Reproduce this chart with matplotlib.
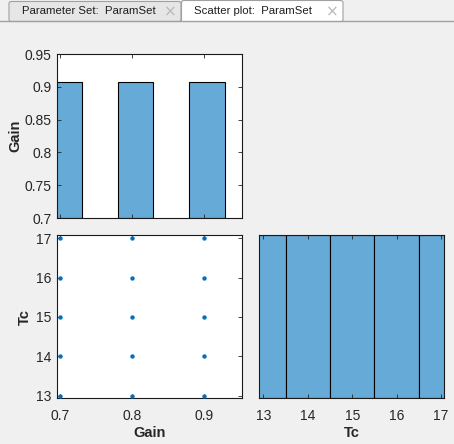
import matplotlib.pyplot as plt
from matplotlib.patches import FancyBboxPatch, Rectangle
from matplotlib.lines import Line2D

# ---------------- dados ----------------
gain_levels = [0.7, 0.8, 0.9]
tc_levels = [13, 14, 15, 16, 17]

# pontos do scatter (Gain x Tc)
scatter_gain = [0.7, 0.7, 0.7, 0.7, 0.7,
                0.8, 0.8, 0.8, 0.8, 0.8,
                0.9, 0.9, 0.9, 0.9, 0.9]
scatter_tc = [13, 14, 15, 16, 17,
              13, 14, 15, 16, 17,
              13, 14, 15, 16, 17]

# histograma de Gain (diagonal superior)
gain_bin_left = [0.68, 0.78, 0.88]
gain_bin_width = 0.05
gain_bar_top = [0.907, 0.907, 0.907]

# histograma de Tc (diagonal inferior)
tc_bin_left = [12.5, 13.5, 14.5, 15.5, 16.5]
tc_counts = [3, 3, 3, 3, 3]

tab_labels = ['Parameter Set:  ParamSet', 'Scatter plot:  ParamSet']

W, H = 454, 444
bar_color = '#66aad7'
dot_color = '#0072bd'
txt_color = '#262626'

plt.rcParams['font.family'] = ['Liberation Sans', 'DejaVu Sans']


def box(x0, y0, x1, y1):
    # pixel (topo-esquerda) -> fração da figura
    return [x0 / W, 1 - y1 / H, (x1 - x0) / W, (y1 - y0) / H]


def estilo(ax):
    ax.tick_params(direction='in', length=3, width=0.6, colors=txt_color,
                   labelsize=10, top=True, right=True, pad=4)
    for s in ax.spines.values():
        s.set_color('#1a1a1a')
        s.set_linewidth(0.8)


fig = plt.figure(figsize=(W / 100, H / 100), dpi=100, facecolor='#f0f0f0')

# ---------------- abas ----------------
fig.add_artist(Line2D([0, 1], [1 - 21.5 / H] * 2, color='#a0a0a0', lw=1,
                      transform=fig.transFigure))
abas = [(9, 181, 1.5, '#e6e6e6'), (181.5, 343, 0.5, '#ffffff')]
for (x0, x1, y0, cor), lab in zip(abas, tab_labels):
    p = FancyBboxPatch((x0 / W, 1 - 21.5 / H), (x1 - x0) / W, (21.5 - y0) / H,
                       boxstyle='round,pad=0,rounding_size=0.005',
                       transform=fig.transFigure, facecolor=cor,
                       edgecolor='#a0a0a0', lw=0.8)
    fig.add_artist(p)
    if cor == '#ffffff':
        # aba ativa: sem borda inferior
        fig.add_artist(Rectangle(((x0 + 0.6) / W, 1 - 22.5 / H),
                                 (x1 - x0 - 1.2) / W, 2 / H, facecolor=cor,
                                 edgecolor='none', transform=fig.transFigure))
    fig.text((x0 + 13) / W, 1 - 11.5 / H, lab, fontsize=8.2, color='#1e1e1e',
             va='center', ha='left')
    fig.text((x1 - 10.5) / W, 1 - 11.5 / H, '\u00d7', fontsize=11,
             color='#b8b8b8', va='center', ha='center',
             family=['DejaVu Sans'])

# ---------------- Gain: histograma ----------------
ax1 = fig.add_axes(box(57.3, 54, 242.3, 218))
ax1.bar(gain_bin_left, [t - 0.7 for t in gain_bar_top], width=gain_bin_width,
        bottom=0.7, align='edge', color=bar_color, edgecolor='black', lw=0.8)
ax1.set_xlim(0.696, 0.954)
ax1.set_ylim(0.7, 0.95)
ax1.set_yticks([0.7, 0.75, 0.8, 0.85, 0.9, 0.95])
ax1.set_yticklabels(['0.7', '0.75', '0.8', '0.85', '0.9', '0.95'])
ax1.set_xticks([0.7, 0.8, 0.9])
ax1.set_xticklabels([])
estilo(ax1)
ax1.set_ylabel('Gain', fontsize=10.5, fontweight='bold', color=txt_color)
ax1.yaxis.set_label_coords(-0.229, 0.5)
ax1.yaxis.label.set_va('center')

# ---------------- scatter Gain x Tc ----------------
ax2 = fig.add_axes(box(57.3, 235.3, 242.3, 398.3))
ax2.scatter(scatter_gain, scatter_tc, s=10, color=dot_color, lw=0, zorder=3,
            clip_on=False)
ax2.set_xlim(0.696, 0.954)
ax2.set_ylim(12.94, 17.07)
ax2.set_xticks(gain_levels)
ax2.set_xticklabels(['0.7', '0.8', '0.9'])
ax2.set_yticks(tc_levels)
estilo(ax2)
ax2.tick_params(axis='x', pad=7.5)
ax2.set_xlabel('Gain', fontsize=10.5, fontweight='bold', color=txt_color)
ax2.set_ylabel('Tc', fontsize=10.5, fontweight='bold', color=txt_color)
ax2.xaxis.set_label_coords(0.5, -0.21)
ax2.xaxis.label.set_va('center')
ax2.yaxis.set_label_coords(-0.175, 0.5)
ax2.yaxis.label.set_va('center')

# ---------------- Tc: histograma ----------------
ax3 = fig.add_axes(box(259.3, 235.3, 444.3, 398.3))
ax3.bar(tc_bin_left, tc_counts, width=1, align='edge', color=bar_color,
        edgecolor='black', lw=0.8)
ax3.set_xlim(12.91, 17.07)
ax3.set_ylim(0, 3)
ax3.set_xticks(tc_levels)
ax3.set_yticks([])
estilo(ax3)
ax3.tick_params(axis='x', pad=7.5)
ax3.set_xlabel('Tc', fontsize=10.5, fontweight='bold', color=txt_color)
ax3.xaxis.set_label_coords(0.5, -0.21)
ax3.xaxis.label.set_va('center')

fig.savefig('out.png', dpi=100, facecolor=fig.get_facecolor())
